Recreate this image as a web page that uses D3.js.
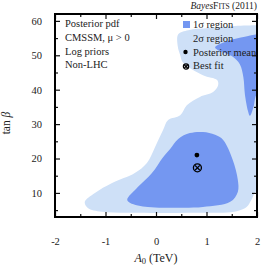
<!DOCTYPE html>
<html>
<head>
<meta charset="utf-8">
<script src="https://cdn.jsdelivr.net/npm/d3@7"></script>
<style>
  body { margin: 0; background: #fff; }
  text { font-family: "Liberation Serif", "DejaVu Serif", serif; fill: #222; }
</style>
</head>
<body>
<svg id="root"></svg>
<script>
// 2 sigma contour (A0 in TeV, tan beta)
const region2 = [
  [-1.41, 7.4], [-1.21, 10.0], [-0.87, 12.9], [-0.42, 15.8], [-0.18, 18.7],
  [-0.02, 23.3], [0.14, 28.3], [0.24, 31.2], [0.48, 32.6], [0.61, 35.5],
  [0.87, 37.9], [1.13, 39.3], [1.23, 41.3], [1.21, 42.8], [0.93, 44.2],
  [0.53, 48.0], [0.48, 50.0], [0.43, 52.7], [0.44, 56.1], [0.64, 57.3],
  [1.04, 57.9], [1.56, 58.5], [2.0, 58.7], [2.15, 58.7], [2.15, 10.7],
  [2.0, 10.7], [1.89, 8.0], [1.80, 6.0], [1.60, 4.7], [0.64, 4.2],
  [-0.35, 4.2], [-1.07, 4.5], [-1.35, 5.6]
];
// 1 sigma contours
const region1Low = [
  [-0.57, 8.0], [-0.36, 11.7], [-0.08, 15.8], [0.14, 20.4], [0.28, 22.8],
  [0.44, 25.7], [0.67, 27.4], [0.93, 27.7], [1.17, 26.9], [1.33, 25.4],
  [1.52, 19.6], [1.62, 13.8], [1.62, 10.3], [1.47, 7.4], [0.93, 5.9],
  [0.31, 5.7], [-0.16, 5.9], [-0.51, 7.1]
];
const region1High = [
  [1.17, 52.3], [1.43, 54.2], [1.76, 55.4], [2.0, 56.1], [2.15, 56.3],
  [2.15, 38.7], [2.0, 38.7], [1.93, 34.9], [1.86, 32.4], [1.82, 33.9],
  [1.76, 38.7], [1.73, 43.6], [1.66, 47.4], [1.50, 49.8], [1.23, 51.5]
];
const postMean = [0.81, 21.0];
const bestFit = [0.82, 17.3];

const xTicks = [-2, -1, 0, 1, 2];
const xMinor = [-1.5, -0.5, 0.5, 1.5];
const yTicks = [10, 20, 30, 40, 50, 60];
const yMinor = [5, 15, 25, 35, 45, 55];
const infoLines = ["Posterior pdf", "CMSSM, μ > 0", "Log priors", "Non-LHC"];
const legendLabels = ["1σ region", "2σ region", "Posterior mean", "Best fit"];

const W = 263, H = 266;
const margin = { top: 14, right: 6, bottom: 49, left: 55 };
const width = W - margin.left - margin.right;
const height = H - margin.top - margin.bottom;

const dark = "#7497f1", light = "#cee0f7";

const svg = d3.select("#root").attr("width", W).attr("height", H);
const chart = svg.append("g").attr("transform", `translate(${margin.left},${margin.top})`);

const x = d3.scaleLinear().domain([-2, 2]).range([0, width]);
const y = d3.scaleLinear().domain([3, 62]).range([height, 0]);

chart.append("clipPath").attr("id", "clip")
  .append("rect").attr("width", width).attr("height", height);

const line = d3.line()
  .x(d => x(d[0])).y(d => y(d[1]))
  .curve(d3.curveCatmullRomClosed.alpha(0.5));

const regions = chart.append("g").attr("clip-path", "url(#clip)");
regions.append("path").attr("d", line(region2)).attr("fill", light);
regions.append("path").attr("d", line(region1Low)).attr("fill", dark);
regions.append("path").attr("d", line(region1High)).attr("fill", dark);

// axes with inward ticks
function axisGroup(axis, tr) {
  const g = chart.append("g").attr("transform", tr).call(axis);
  g.select(".domain").remove();
  g.selectAll(".tick line").attr("stroke", "#111").attr("stroke-width", 1.2);
  g.selectAll("text").attr("font-size", 10.5).attr("fill", "#222")
    .attr("font-family", "Liberation Serif, serif");
  return g;
}
axisGroup(d3.axisBottom(x).tickValues(xTicks).tickSize(-5).tickPadding(21)
  .tickFormat(d => d < 0 ? "-" + Math.abs(d) : d), `translate(0,${height})`);
axisGroup(d3.axisBottom(x).tickValues(xMinor).tickSize(-3).tickFormat(""), `translate(0,${height})`);
axisGroup(d3.axisTop(x).tickValues(xTicks).tickSize(-5).tickFormat(""), "translate(0,0)");
axisGroup(d3.axisTop(x).tickValues(xMinor).tickSize(-3).tickFormat(""), "translate(0,0)");
axisGroup(d3.axisLeft(y).tickValues(yTicks).tickSize(-5).tickPadding(13), "translate(0,0)");
axisGroup(d3.axisLeft(y).tickValues(yMinor).tickSize(-3).tickFormat(""), "translate(0,0)");
axisGroup(d3.axisRight(y).tickValues(yTicks).tickSize(-5).tickFormat(""), `translate(${width},0)`);
axisGroup(d3.axisRight(y).tickValues(yMinor).tickSize(-3).tickFormat(""), `translate(${width},0)`);

chart.append("rect").attr("width", width).attr("height", height)
  .attr("fill", "none").attr("stroke", "#000").attr("stroke-width", 2);

// markers
function bestFitMark(g, cx, cy, r) {
  g.append("circle").attr("cx", cx).attr("cy", cy).attr("r", r)
    .attr("fill", "none").attr("stroke", "#000").attr("stroke-width", 1.3);
  const k = r * 0.6;
  g.append("path").attr("d", `M${cx - k},${cy - k}L${cx + k},${cy + k}M${cx - k},${cy + k}L${cx + k},${cy - k}`)
    .attr("stroke", "#000").attr("stroke-width", 1.3);
}
chart.append("circle").attr("cx", x(postMean[0])).attr("cy", y(postMean[1])).attr("r", 2.4).attr("fill", "#000");
bestFitMark(chart, x(bestFit[0]), y(bestFit[1]), 4);

// info text
chart.selectAll(".info").data(infoLines).enter().append("text")
  .attr("x", 10).attr("y", (d, i) => 13 + i * 13.8)
  .attr("font-size", 10.5).text(d => d);

// legend
const lg = chart.append("g").attr("transform", "translate(128,0)");
lg.append("rect").attr("x", 0).attr("y", 7).attr("width", 7).attr("height", 7).attr("fill", dark);
lg.append("rect").attr("x", 0).attr("y", 20.8).attr("width", 7).attr("height", 7).attr("fill", light);
lg.append("circle").attr("cx", 2.5).attr("cy", 38).attr("r", 2.2).attr("fill", "#000");
bestFitMark(lg, 3, 52.5, 2.6);
lg.selectAll(".lab").data(legendLabels).enter().append("text")
  .attr("x", 10).attr("y", (d, i) => 14 + i * 13.8)
  .attr("font-size", 10.5).text(d => d);

// axis titles
const xt = svg.append("text").attr("x", margin.left + width / 2).attr("y", 262)
  .attr("text-anchor", "middle").attr("font-size", 12);
xt.append("tspan").attr("font-style", "italic").text("A");
xt.append("tspan").attr("font-size", 8.5).attr("dy", 2).text("0");
xt.append("tspan").attr("dy", -2).text(" (TeV)");

svg.append("text").attr("transform", "translate(10,123) rotate(-90)")
  .attr("text-anchor", "middle").attr("font-size", 11.5)
  .text("tan ").append("tspan").attr("font-style", "italic").text("β");

// credit
const cr = svg.append("text").attr("x", 257).attr("y", 9).attr("text-anchor", "end").attr("font-size", 9.5);
cr.append("tspan").attr("font-style", "italic").text("Bayes");
cr.append("tspan").text("F");
cr.append("tspan").attr("font-size", 7.5).text("ITS");
cr.append("tspan").text(" (2011)");
</script>
</body>
</html>
